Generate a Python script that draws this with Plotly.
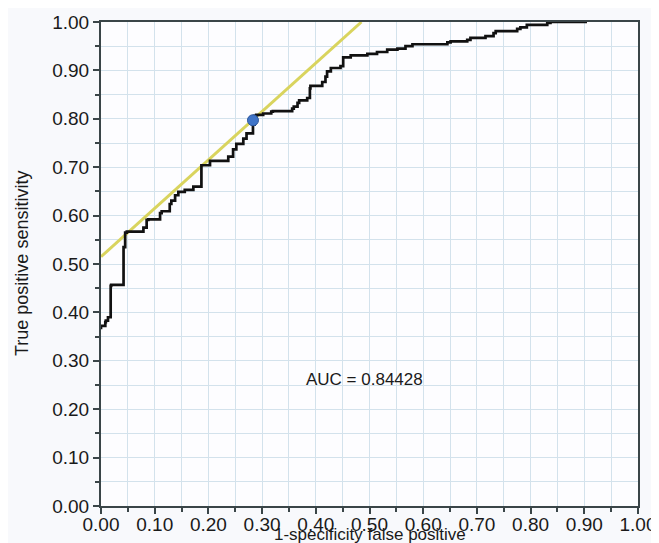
import plotly.graph_objects as go

# ROC curve vertices (1-specificity, sensitivity)
fpr = [0.000, 0.004, 0.008, 0.009, 0.013, 0.018, 0.019, 0.042, 0.042, 0.045, 0.048,
       0.079, 0.085, 0.088, 0.110, 0.113, 0.128, 0.131, 0.138, 0.144, 0.156, 0.172,
       0.187, 0.187, 0.203, 0.237, 0.246, 0.252, 0.265, 0.271, 0.283, 0.286, 0.286,
       0.289, 0.302, 0.317, 0.320, 0.356, 0.359, 0.366, 0.369, 0.384, 0.389, 0.390,
       0.412, 0.418, 0.421, 0.428, 0.446, 0.451, 0.465, 0.496, 0.514, 0.533, 0.552,
       0.567, 0.580, 0.583, 0.645, 0.651, 0.682, 0.688, 0.716, 0.731, 0.735, 0.775,
       0.781, 0.793, 0.831, 0.837, 0.850, 0.905]
tpr = [0.365, 0.372, 0.372, 0.380, 0.383, 0.390, 0.455, 0.457, 0.532, 0.535, 0.565,
       0.567, 0.575, 0.591, 0.592, 0.605, 0.609, 0.624, 0.631, 0.642, 0.649, 0.653,
       0.660, 0.700, 0.704, 0.713, 0.722, 0.737, 0.748, 0.759, 0.770, 0.788, 0.797,
       0.806, 0.808, 0.811, 0.815, 0.816, 0.821, 0.825, 0.833, 0.838, 0.843, 0.863,
       0.868, 0.876, 0.887, 0.898, 0.905, 0.909, 0.927, 0.931, 0.934, 0.938, 0.943,
       0.945, 0.950, 0.954, 0.954, 0.958, 0.960, 0.963, 0.967, 0.971, 0.977, 0.981,
       0.986, 0.989, 0.994, 0.998, 1.000, 1.000]

# Tangent line at optimal cut-off
tangent_x = [0.0, 0.485]
tangent_y = [0.515, 1.0]

# Optimal cut-off point
cut_x = [0.283]
cut_y = [0.797]

auc_text = "AUC = 0.84428"
x_title = "1-specificity false positive"
y_title = "True positive sensitivity"
tick_vals = [0.0, 0.1, 0.2, 0.3, 0.4, 0.5, 0.6, 0.7, 0.8, 0.9, 1.0]

FONT = "Liberation Sans, Arial, sans-serif"

fig = go.Figure()
fig.add_trace(go.Scatter(x=tangent_x, y=tangent_y, mode="lines",
                         line=dict(color="#d9d45e", width=3), showlegend=False))
fig.add_trace(go.Scatter(x=fpr, y=tpr, mode="lines",
                         line=dict(color="#111111", width=2.7, shape="vh"), showlegend=False))
fig.add_trace(go.Scatter(x=cut_x, y=cut_y, mode="markers",
                         marker=dict(color="#3f74c8", size=11, line=dict(color="#2c559a", width=1)),
                         showlegend=False))

fig.add_annotation(x=0.49, y=0.262, text=auc_text, showarrow=False,
                   font=dict(family=FONT, size=17, color="#1a1a1a"))

# Axis titles as annotations (placed tight like the reference)
fig.add_annotation(xref="paper", yref="paper", x=0.5, y=0, yanchor="top", yshift=-17,
                   text=x_title, showarrow=False,
                   font=dict(family=FONT, size=17, color="#1a1a1a"))
fig.add_annotation(xref="paper", yref="paper", x=0, y=0.5, xanchor="center", xshift=-79,
                   text=y_title, textangle=-90, showarrow=False,
                   font=dict(family=FONT, size=18, color="#1a1a1a"))

axis_common = dict(
    range=[0, 1], tickvals=tick_vals, tickformat=".2f",
    showline=True, mirror=True, linecolor="#3a4548", linewidth=2,
    ticks="outside", ticklen=6, tickwidth=1.5, tickcolor="#3a4548",
    showgrid=True, gridcolor="#d3e2ec", gridwidth=1,
    zeroline=False, automargin=False,
    tickfont=dict(family=FONT, size=19, color="#1a1a1a"),
    minor=dict(dtick=0.05, tick0=0, ticks="outside", ticklen=4, tickwidth=1.5,
               tickcolor="#3a4548", showgrid=True, gridcolor="#d3e2ec", gridwidth=1),
)

fig.update_xaxes(**axis_common, ticklabelstandoff=-6)
fig.update_yaxes(**axis_common)

fig.update_layout(
    width=651, height=535,
    margin=dict(l=93, r=21, t=14, b=37),
    paper_bgcolor="#f8f9fc", plot_bgcolor="#fdfdff",
    template="none",
)

fig.write_html("out.html")
